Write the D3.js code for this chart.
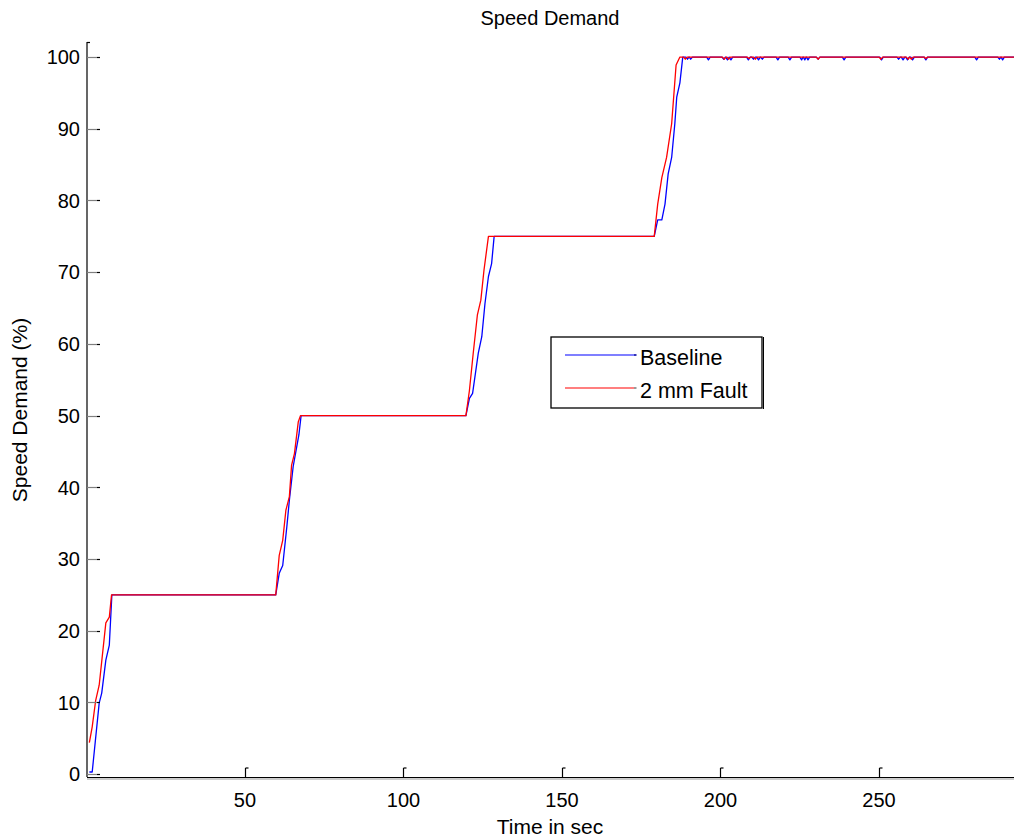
<!DOCTYPE html>
<html>
<head>
<meta charset="utf-8">
<script src="https://cdn.jsdelivr.net/npm/d3@7"></script>
<style>
  html, body { margin: 0; padding: 0; background: #fff; }
  svg { display: block; font-family: "Liberation Sans", Arial, Helvetica, sans-serif; }
</style>
</head>
<body>
<svg id="chart" width="1014" height="838"></svg>
<script>
// Speed demand steps: breakpoints (time in s, demand in %)
const baselineTime  = [0.9, 1.8, 4.0, 4.8, 6.1, 7.2, 8.0, 59.7, 60.8, 61.9, 63.2, 64.0, 65.2, 66.3, 67.0, 67.7,
                       119.7, 120.8, 121.8, 123.6, 124.7, 125.7, 126.8, 127.8, 128.6,
                       179.1, 180.2, 181.5, 182.5, 183.5, 184.6, 185.6, 186.2, 187.2, 188.1];
const baselineValue = [0.3, 0.3, 9.9, 11.3, 15.9, 18.0, 25.0, 25.0, 28.0, 29.1, 34.5, 38.2, 42.9, 45.6, 47.3, 50.0,
                       50.0, 52.4, 53.1, 58.7, 61.0, 65.6, 69.4, 71.2, 75.0,
                       75.0, 77.3, 77.3, 79.5, 83.7, 86.0, 90.7, 94.4, 96.4, 100.0];

const faultTime  = [0.9, 1.8, 2.9, 4.0, 6.1, 7.2, 7.9, 59.7, 60.8, 61.9, 62.9, 64.0, 64.7, 65.6, 66.8, 67.5,
                    119.7, 120.8, 122.0, 123.3, 124.4, 125.4, 126.8,
                    179.1, 180.2, 181.5, 183.0, 184.6, 186.0, 187.2];
const faultValue = [4.4, 6.6, 10.3, 12.4, 21.1, 21.9, 25.0, 25.0, 30.5, 32.6, 36.8, 38.7, 43.1, 44.7, 49.1, 50.0,
                    50.0, 53.5, 58.7, 64.0, 66.1, 70.3, 75.0,
                    75.0, 79.5, 83.2, 86.0, 90.7, 98.9, 100.0];

// Small dips on the 100 % plateau
const baselineDipTime  = [189.6, 190.6, 196.2, 201.0, 202.2, 203.3, 208.8, 210.4, 212.0, 213.2, 218.1, 221.9,
                          225.6, 226.6, 227.6, 230.8, 239.0, 250.8, 256.2, 257.6, 259.0, 260.6, 264.8, 280.8, 288.0, 289.0];
const baselineDipValue = [99.7, 99.7, 99.6, 99.7, 99.6, 99.6, 99.6, 99.7, 99.6, 99.7, 99.6, 99.6,
                          99.6, 99.6, 99.6, 99.7, 99.6, 99.6, 99.7, 99.6, 99.6, 99.6, 99.6, 99.6, 99.7, 99.6];
const faultDipTime  = [188.9, 201.2, 202.6, 209.0, 211.0, 230.8, 250.6, 259.2, 260.2, 264.8];
const faultDipValue = [99.7, 99.7, 99.7, 99.8, 99.7, 99.7, 99.7, 99.7, 99.7, 99.8];

const endTime = 292.6;

const xTicks = [50, 100, 150, 200, 250];
const yTicks = [0, 10, 20, 30, 40, 50, 60, 70, 80, 90, 100];

const seriesNames  = ["Baseline", "2 mm Fault"];
const seriesColors = ["#0000ff", "#ff0000"];
const seriesEnds   = ["#0000a0", "#808080"];

const tickFont = 20, titleFont = 20, labelFont = 21, legendFont = 21.5;

// Build point lists: ramps followed by the plateau with its dips
function buildSeries(times, values, dipT, dipV) {
  const pts = times.map((t, i) => ({ t, v: values[i] }));
  dipT.forEach((t, i) => {
    pts.push({ t: t - 0.55, v: 100 });
    pts.push({ t: t, v: dipV[i] });
    pts.push({ t: t + 0.55, v: 100 });
  });
  pts.push({ t: endTime, v: 100 });
  return pts.sort((a, b) => a.t - b.t);
}

const baseline = buildSeries(baselineTime, baselineValue, baselineDipTime, baselineDipValue);
const fault = buildSeries(faultTime, faultValue, faultDipTime, faultDipValue);

const svg = d3.select("#chart");
const plotLeft = 87, plotBottom = 777, plotTop = 42, plotRight = 1014;

const x = d3.scaleLinear().domain([0, endTime]).range([86.5, 1014]);
const y = d3.scaleLinear().domain([-0.4, 102.1]).range([plotBottom, plotTop]);

// Clip lines to the plot area
svg.append("defs").append("clipPath").attr("id", "plotClip")
  .append("rect").attr("x", plotLeft).attr("y", plotTop)
  .attr("width", plotRight - plotLeft).attr("height", plotBottom - plotTop);

const line = d3.line().x(d => x(d.t)).y(d => y(d.v));

const plot = svg.append("g").attr("clip-path", "url(#plotClip)");
[baseline, fault].forEach((s, i) => {
  plot.append("path")
    .datum(s)
    .attr("d", line)
    .attr("fill", "none")
    .attr("stroke", seriesColors[i])
    .attr("stroke-width", 1.3)
    .attr("stroke-linejoin", "round");
});

// Y axis with inward ticks
const yAxis = svg.append("g");
yAxis.append("line").attr("x1", plotLeft).attr("x2", plotLeft).attr("y1", plotTop).attr("y2", plotBottom)
  .attr("stroke", "#000").attr("stroke-width", 1.2);
yAxis.append("line").attr("x1", plotLeft).attr("x2", plotLeft + 3).attr("y1", plotTop + 0.5).attr("y2", plotTop + 0.5)
  .attr("stroke", "#000").attr("stroke-width", 1.2);
yTicks.forEach(v => {
  const yy = Math.round(y(v)) + 0.5;
  yAxis.append("line").attr("x1", plotLeft).attr("x2", plotLeft + 10).attr("y1", yy).attr("y2", yy)
    .attr("stroke", "#808080").attr("stroke-width", 1.2);
  yAxis.append("line").attr("x1", plotLeft + 10).attr("x2", plotLeft + 13).attr("y1", yy).attr("y2", yy)
    .attr("stroke", "#000").attr("stroke-width", 1.2);
  yAxis.append("text").attr("x", plotLeft - 7).attr("y", y(v)).attr("dy", "0.36em")
    .attr("text-anchor", "end").attr("font-size", tickFont).attr("fill", "#000").text(v);
});

// X axis with inward ticks
const xAxis = svg.append("g");
xAxis.append("line").attr("x1", plotLeft).attr("x2", plotRight).attr("y1", plotBottom + 0.5).attr("y2", plotBottom + 0.5)
  .attr("stroke", "#000").attr("stroke-width", 1.2);
xAxis.append("line").attr("x1", plotLeft).attr("x2", plotRight).attr("y1", plotBottom + 2).attr("y2", plotBottom + 2)
  .attr("stroke", "#9a9a9a").attr("stroke-width", 1);
xTicks.forEach(t => {
  const xx = Math.round(x(t)) + 0.5;
  xAxis.append("line").attr("x1", xx).attr("x2", xx).attr("y1", plotBottom).attr("y2", plotBottom - 9)
    .attr("stroke", "#000").attr("stroke-width", 1.2);
  xAxis.append("line").attr("x1", xx).attr("x2", xx + 3).attr("y1", plotBottom - 9).attr("y2", plotBottom - 9)
    .attr("stroke", "#000").attr("stroke-width", 1.2);
  xAxis.append("text").attr("x", x(t)).attr("y", 807)
    .attr("text-anchor", "middle").attr("font-size", tickFont).attr("fill", "#000").text(t);
});

// Titles
svg.append("text").attr("x", 550).attr("y", 25).attr("text-anchor", "middle")
  .attr("font-size", titleFont).text("Speed Demand");
svg.append("text").attr("x", 550).attr("y", 834).attr("text-anchor", "middle")
  .attr("font-size", labelFont).text("Time in sec");
svg.append("text").attr("transform", "translate(27,410) rotate(-90)").attr("text-anchor", "middle")
  .attr("font-size", labelFont).text("Speed Demand (%)");

// Legend
const lg = svg.append("g");
lg.append("rect").attr("x", 551).attr("y", 337).attr("width", 211).attr("height", 71)
  .attr("fill", "#fff").attr("stroke", "#000").attr("stroke-width", 1.3);
lg.append("line").attr("x1", 763.5).attr("x2", 763.5).attr("y1", 337).attr("y2", 409)
  .attr("stroke", "#000").attr("stroke-width", 1);
seriesNames.forEach((name, i) => {
  const ly = 355 + i * 33;
  lg.append("line").attr("x1", 565).attr("x2", 634).attr("y1", ly).attr("y2", ly)
    .attr("stroke", seriesColors[i]).attr("stroke-width", 1.2);
  lg.append("line").attr("x1", 634).attr("x2", 636.5).attr("y1", ly).attr("y2", ly)
    .attr("stroke", seriesEnds[i]).attr("stroke-width", 1.6);
  lg.append("text").attr("x", 640).attr("y", ly + 2).attr("dy", "0.36em")
    .attr("font-size", legendFont).text(name);
});
</script>
</body>
</html>
